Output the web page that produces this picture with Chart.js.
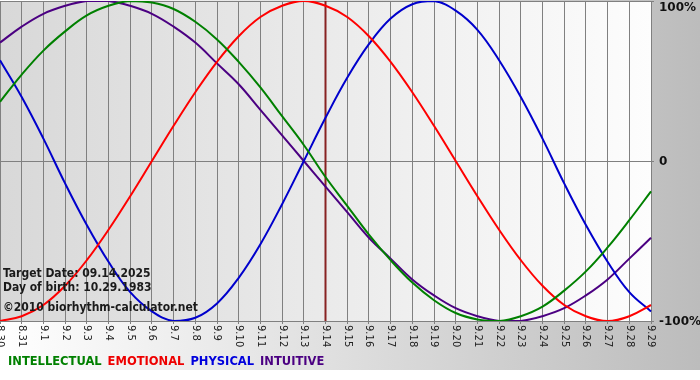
<!DOCTYPE html>
<html>
<head>
<meta charset="utf-8">
<title>Biorhythm</title>
<script src="https://cdn.jsdelivr.net/npm/chart.js@4.4.1/dist/chart.umd.min.js"></script>
<style>
  html,body{margin:0;padding:0;background:#fff;}
  #wrap{width:700px;height:380px;}
</style>
</head>
<body>
<div id="wrap"><canvas id="bio"></canvas></div>
<script>
// days shown on the x axis
var dates=['8.30','8.31','9.1','9.2','9.3','9.4','9.5','9.6','9.7','9.8','9.9','9.10','9.11','9.12','9.13','9.14',
  '9.15','9.16','9.17','9.18','9.19','9.20','9.21','9.22','9.23','9.24','9.25','9.26','9.27','9.28','9.29'];
var targetDay='9.14';

// cycle values in percent
var intellectual=[37,54,69,81,91,97,100,99,95,87,76,62,46,28,10,-10,-28,-46,-62,-76,-87,-95,-99,-100,-97,-91,-81,-69,-54,-37,-19];
var emotional=[-100,-97,-90,-78,-62,-43,-22,0,22,43,62,78,90,97,100,97,90,78,62,43,22,0,-22,-43,-62,-78,-90,-97,-100,-97,-90];
var physical=[63,40,14,-14,-40,-63,-82,-94,-100,-98,-89,-73,-52,-27,0,27,52,73,89,98,100,94,82,63,40,14,-14,-40,-63,-82,-94];
var intuitive=[74,84,92,97,100,100,97,92,84,74,61,48,32,16,0,-16,-32,-48,-61,-74,-84,-92,-97,-100,-100,-97,-92,-84,-74,-61,-48];

var yTicks=[100,0,-100];
var yTickLabels=['100%','0','-100%'];
var infoLines=['Target Date: 09.14.2025','Day of birth: 10.29.1983','\u00a92010 biorhythm-calculator.net'];
var legendNames=['INTELLECTUAL','EMOTIONAL','PHYSICAL','INTUITIVE'];
var legendColors=['#008000','#ee0000','#0000dd','#4b0082'];

var paint={
  id:'paint',
  beforeDraw:function(chart){
    var c=chart.ctx,a=chart.chartArea;
    c.save();
    c.fillStyle='#fff';
    c.fillRect(0,0,chart.width,chart.height);
    var g=c.createLinearGradient(0,0,chart.width,0);
    g.addColorStop(0,'#ffffff');
    g.addColorStop(1,'#bcbcbc');
    c.fillStyle=g;
    c.fillRect(0,0,chart.width,370);
    var g2=c.createLinearGradient(a.left,0,a.right,0);
    g2.addColorStop(0,'#d8d8d8');
    g2.addColorStop(1,'#fdfdfd');
    c.fillStyle=g2;
    c.fillRect(a.left,a.top,a.right-a.left,a.bottom-a.top);
    c.restore();
  },
  beforeDatasetsDraw:function(chart){
    var c=chart.ctx,a=chart.chartArea;
    var px=chart.scales.x.getPixelForValue(dates.indexOf(targetDay));
    c.save();
    c.strokeStyle='#882222';
    c.lineWidth=2;
    c.beginPath();
    c.moveTo(px,a.top);
    c.lineTo(px,a.bottom);
    c.stroke();
    c.restore();
  },
  afterDraw:function(chart){
    var c=chart.ctx,a=chart.chartArea,x=chart.scales.x,y=chart.scales.y;
    c.save();
    // x labels, rotated to read downward
    c.font='10px "DejaVu Sans"';
    c.fillStyle='#222';
    c.textAlign='left';
    c.textBaseline='middle';
    dates.forEach(function(d,i){
      c.save();
      c.translate(x.getPixelForValue(i),a.bottom+4);
      c.rotate(Math.PI/2);
      c.fillText(d,0,0);
      c.restore();
    });
    // y labels
    c.font='bold 12px "DejaVu Sans"';
    c.fillStyle='#111';
    yTicks.forEach(function(v,i){
      var py=y.getPixelForValue(v);
      if(i==0) py+=6;
      c.fillText(yTickLabels[i],a.right+8,py+1);
    });
    // info text
    c.font='bold 12px "DejaVu Sans Condensed"';
    c.fillStyle='#1a1a1a';
    c.textBaseline='alphabetic';
    c.fillText(infoLines[0],3,277);
    c.fillText(infoLines[1],3,291);
    c.fillText(infoLines[2],3,311);
    // legend
    c.font='bold 11.5px "DejaVu Sans"';
    c.textBaseline='middle';
    var lx=8;
    legendNames.forEach(function(n,i){
      c.fillStyle=legendColors[i];
      c.fillText(n,lx,362);
      lx+=c.measureText(n).width+6;
    });
    c.restore();
  }
};

function series(label,data,color){
  return {label:label,data:data,borderColor:color,borderWidth:2,pointRadius:0,tension:0.4,fill:false};
}

var ctx=document.getElementById('bio').getContext('2d');
new Chart(ctx,{
  type:'line',
  data:{
    labels:dates,
    datasets:[
      series('Intellectual',intellectual,'#008000'),
      series('Emotional',emotional,'#ff0000'),
      series('Physical',physical,'#0000cc'),
      series('Intuitive',intuitive,'#4b0082')
    ]
  },
  options:{
    responsive:true,
    maintainAspectRatio:false,
    animation:false,
    layout:{padding:{top:1,left:0,right:0,bottom:0}},
    plugins:{legend:{display:false},tooltip:{enabled:false}},
    scales:{
      x:{
        offset:false,
        ticks:{display:false},
        grid:{color:'#808080',lineWidth:1,tickLength:3},
        border:{display:false},
        afterFit:function(s){s.height=59;}
      },
      y:{
        position:'right',
        min:-100,max:100,
        ticks:{display:false,stepSize:100},
        grid:{color:'#808080',lineWidth:1,tickLength:3},
        border:{display:false},
        afterFit:function(s){s.width=49;}
      }
    }
  },
  plugins:[paint]
});
</script>
</body>
</html>
